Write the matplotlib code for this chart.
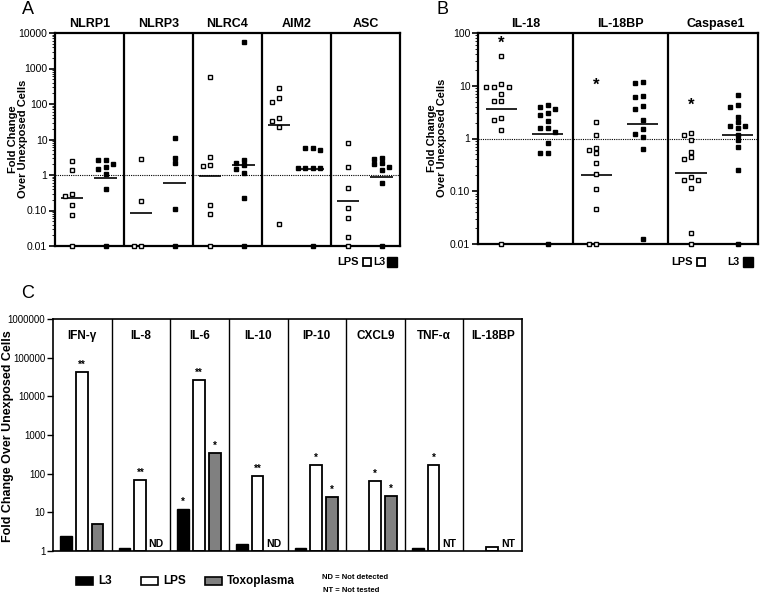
import numpy as np
import matplotlib
matplotlib.use('Agg')
import matplotlib.pyplot as plt
import matplotlib.transforms as mtransforms
from matplotlib.patches import Rectangle
from matplotlib.ticker import LogLocator, FixedLocator, FixedFormatter, NullLocator, NullFormatter

plt.rcParams['font.family'] = ['Liberation Sans', 'DejaVu Sans']

# ---- Panel A: inflammasome genes ----
a_genes = ['NLRP1', 'NLRP3', 'NLRC4', 'AIM2', 'ASC']
a_lps = [
    [2.5, 1.41, 0.30, 0.26, 0.14, 0.077, 0.01],
    [2.8, 0.186, 0.01, 0.01],
    [563, 3.3, 1.95, 1.83, 0.14, 0.082, 0.01],
    [290, 148, 112, 41, 34, 23, 0.042],
    [7.9, 1.64, 0.43, 0.118, 0.062, 0.0185, 0.01],
]
a_l3 = [
    [2.7, 2.7, 2.1, 1.71, 1.5, 1.07, 0.40, 0.01],
    [11, 3.0, 2.17, 0.11, 0.01],
    [5450, 2.7, 2.17, 1.87, 1.44, 1.11, 0.226, 0.01],
    [5.7, 5.7, 5.0, 1.6, 1.6, 1.6, 1.6, 0.01],
    [3.0, 2.9, 2.17, 2.1, 1.7, 1.38, 0.58, 0.01],
]
a_lps_med = [0.226, 0.085, 0.96, 25, 0.186]
a_l3_med = [0.8, 0.6, 1.95, 1.5, 0.88]

# ---- Panel B: IL-18 pathway ----
b_genes = ['IL-18', 'IL-18BP', 'Caspase1']
b_lps = [
    [36, 10.9, 9.6, 9.4, 9.4, 7.0, 5.25, 5.25, 2.46, 2.26, 1.42, 0.01],
    [2.07, 1.14, 0.67, 0.61, 0.54, 0.35, 0.217, 0.111, 0.047, 0.01, 0.01],
    [1.26, 1.17, 0.94, 0.56, 0.44, 0.40, 0.19, 0.162, 0.162, 0.114, 0.016, 0.01],
]
b_l3 = [
    [4.4, 3.9, 3.65, 3.06, 2.77, 2.16, 1.6, 1.57, 1.32, 0.83, 0.54, 0.54, 0.01],
    [11.7, 11.2, 6.4, 6.1, 4.1, 3.6, 2.29, 1.5, 1.23, 1.09, 0.62, 0.0124],
    [6.6, 4.4, 3.9, 2.6, 2.04, 1.76, 1.76, 1.55, 1.19, 0.92, 0.68, 0.25, 0.01],
]
b_lps_med = [3.6, 0.2, 0.22]
b_l3_med = [1.21, 1.92, 1.14]
b_star = [63, 10.2, 4.3]

# ---- Panel C: cytokines ----
c_genes = ['IFN-γ', 'IL-8', 'IL-6', 'IL-10', 'IP-10', 'CXCL9', 'TNF-α', 'IL-18BP']
c_l3 = [2.5, 1.2, 12.4, 1.5, 1.17, np.nan, 1.2, np.nan]
c_lps = [41700, 70, 26400, 87, 170, 66, 164, 1.24]
c_toxo = [5.1, np.nan, 348, np.nan, 24.4, 26.4, np.nan, np.nan]
c_l3_sig = ['', '', '*', '', '', '', '', '']
c_lps_sig = ['**', '**', '**', '**', '*', '*', '*', '']
c_toxo_sig = ['', '', '*', '', '*', '*', '', '']
c_toxo_note = ['', 'ND', '', 'ND', '', '', 'NT', 'NT']

W, H = 760, 595
fig = plt.figure(figsize=(W / 100, H / 100), dpi=100)


def box(x0, y0, x1, y1):
    # pixel box (top-left origin) -> figure fraction rect
    return [x0 / W, 1 - y1 / H, (x1 - x0) / W, (y1 - y0) / H]


def swarm(ax, xc, vals, step=3.7, size=4.8):
    # spread points sideways in pixels so they do not overlap
    pts = ax.transData.transform(np.column_stack([np.full(len(vals), xc), vals]))
    placed = []
    for px, py in pts:
        for k in [0, -1, 1, -2, 2, -3, 3, -4, 4]:
            nx = px + k * step
            if all(abs(nx - qx) >= size or abs(py - qy) >= size for qx, qy in placed):
                break
        placed.append((nx, py))
    return ax.transData.inverted().transform(placed)


def dot_panel(ax, genes, lps, l3, lps_med, l3_med, ylim, labels, xmax):
    n = len(genes)
    ax.set_yscale('log')
    ax.set_ylim(*ylim)
    ax.set_xlim(0, xmax)
    ax.yaxis.set_major_locator(FixedLocator(np.logspace(np.log10(ylim[0]), np.log10(ylim[1]), len(labels))))
    ax.yaxis.set_major_formatter(FixedFormatter(labels))
    ax.yaxis.set_minor_locator(LogLocator(base=10, subs=np.arange(2, 10), numticks=50))
    ax.yaxis.set_minor_formatter(NullFormatter())
    ax.tick_params(axis='y', which='major', length=4, width=1.2, labelsize=7.5, pad=1.5)
    ax.tick_params(axis='y', which='minor', length=2, width=0.6)
    ax.set_xticks([])
    for s in ax.spines.values():
        s.set_linewidth(1.6)
    for i in range(1, n):
        ax.axvline(i, color='k', lw=1.6)
    ax.axhline(1, color='k', lw=0.8, ls=(0, (1, 1)))
    tr = mtransforms.blended_transform_factory(ax.transData, ax.transAxes)
    for i, g in enumerate(genes):
        ax.text(i + 0.5, 1.015, g, transform=tr, ha='center', va='bottom',
                fontsize=9, fontweight='bold')
        xl, xr = i + 0.245, i + 0.735
        p = swarm(ax, xl, lps[i])
        ax.plot(p[:, 0], p[:, 1], 's', ms=3.4, mfc='white', mec='k', mew=1.0, clip_on=False, zorder=4)
        p = swarm(ax, xr, l3[i])
        ax.plot(p[:, 0], p[:, 1], 's', ms=3.4, mfc='k', mec='k', mew=1.0, clip_on=False, zorder=4)
        ax.hlines(lps_med[i], xl - 0.165, xl + 0.165, color='k', lw=1.2, zorder=3)
        ax.hlines(l3_med[i], xr - 0.165, xr + 0.165, color='k', lw=1.2, zorder=3)


# Panel A
axA = fig.add_axes(box(55, 33, 400, 246))
dot_panel(axA, a_genes, a_lps, a_l3, a_lps_med, a_l3_med, (0.01, 10000),
          ['0.01', '0.10', '1', '10', '100', '1000', '10000'], 5)

# Panel B
axB = fig.add_axes(box(478, 33, 758, 244))
dot_panel(axB, b_genes, b_lps, b_l3, b_lps_med, b_l3_med, (0.01, 100),
          ['0.01', '0.10', '1', '10', '100'], 2.95)
for i, sy in enumerate(b_star):
    axB.text(i + 0.245, sy, '*', ha='center', va='center', fontsize=12, fontweight='bold')

for px, py, txt in [(18, 139, 'Fold Change\nOver Unexposed Cells'),
                    (437, 138, 'Fold Change\nOver Unexposed Cells')]:
    fig.text(px / W, 1 - py / H, txt, rotation=90, ha='center', va='center',
             fontsize=8, fontweight='bold', multialignment='center', linespacing=1.05)


def mini_legend(xl_txt, xl_sq, x3_txt, x3_sq, y):
    fy = 1 - y / H
    fig.text(xl_txt / W, fy, 'LPS', ha='right', va='center', fontsize=8, fontweight='bold')
    fig.text(x3_txt / W, fy, 'L3', ha='right', va='center', fontsize=7.5, fontweight='bold')
    fig.add_artist(plt.Line2D([xl_sq / W], [fy], marker='s', ms=6.0, mfc='white', mec='k',
                              mew=1.3, transform=fig.transFigure))
    fig.add_artist(plt.Line2D([x3_sq / W], [fy], marker='s', ms=7, mfc='k', mec='k',
                              transform=fig.transFigure))


mini_legend(359, 367, 385, 392, 262)
mini_legend(693, 701, 739, 748, 262)

# Panel C
axC = fig.add_axes(box(53, 319, 522, 551))
n = len(c_genes)
x = np.arange(n)
axC.set_yscale('log')
axC.set_ylim(1, 1e6)
axC.set_xlim(0, n)
l3 = np.array(c_l3)
lps = np.array(c_lps)
tox = np.array(c_toxo)
bw = 0.2
axC.bar(x + 0.22, l3 - 1, bottom=1, width=bw, color='k', edgecolor='k', lw=1.0)
axC.bar(x + 0.49, lps - 1, bottom=1, width=bw, color='white', edgecolor='k', lw=1.3)
axC.bar(x + 0.76, tox - 1, bottom=1, width=bw, color='#808080', edgecolor='k', lw=1.3)
for vals, sig, off in [(l3, c_l3_sig, 0.22), (lps, c_lps_sig, 0.49), (tox, c_toxo_sig, 0.76)]:
    for i in range(n):
        if sig[i]:
            axC.annotate(sig[i], (i + off, vals[i]), xytext=(0, 1.5), textcoords='offset points',
                         ha='center', va='bottom', fontsize=7, fontweight='bold')
for i in range(n):
    if c_toxo_note[i]:
        axC.annotate(c_toxo_note[i], (i + 0.76, 1), xytext=(0, 1.5), textcoords='offset points',
                     ha='center', va='bottom', fontsize=7.5, fontweight='bold')
for i in range(1, n):
    axC.axvline(i, color='k', lw=1.0)
trC = mtransforms.blended_transform_factory(axC.transData, axC.transAxes)
for i, g in enumerate(c_genes):
    axC.text(i + 0.5, 0.925, g, transform=trC, ha='center', va='center',
             fontsize=8.5, fontweight='bold')
axC.yaxis.set_major_locator(FixedLocator([1, 10, 100, 1000, 1e4, 1e5, 1e6]))
axC.yaxis.set_major_formatter(FixedFormatter(['1', '10', '100', '1000', '10000', '100000', '1000000']))
axC.yaxis.set_minor_locator(NullLocator())
axC.tick_params(axis='y', length=4, width=1.0, labelsize=7, pad=1.5)
axC.set_xticks([])
for s in axC.spines.values():
    s.set_linewidth(1.2)
fig.text(8 / W, 1 - 436 / H, 'Fold Change Over Unexposed Cells', rotation=90,
         ha='center', va='center', fontsize=9, fontweight='bold')

# legend for panel C
for (x0, col, lab) in [(76, 'k', 'L3'), (141, 'white', 'LPS'), (205, '#808080', 'Toxoplasma')]:
    fig.add_artist(Rectangle((x0 / W, 1 - 585 / H), 17 / W, 8 / H, facecolor=col,
                             edgecolor='k', lw=1.2, transform=fig.transFigure))
    fig.text((x0 + 22) / W, 1 - 581 / H, lab, ha='left', va='center',
             fontsize=8.5, fontweight='bold')
fig.text(322 / W, 1 - 577.5 / H, 'ND = Not detected', ha='left', va='center',
         fontsize=5.5, fontweight='bold')
fig.text(323 / W, 1 - 590.5 / H, 'NT = Not tested', ha='left', va='center',
         fontsize=5.5, fontweight='bold')

# panel letters
for px, py, let in [(28, 10, 'A'), (443, 10, 'B'), (28, 293, 'C')]:
    fig.text(px / W, 1 - py / H, let, ha='center', va='center', fontsize=13)

fig.savefig('out.png', dpi=100)
